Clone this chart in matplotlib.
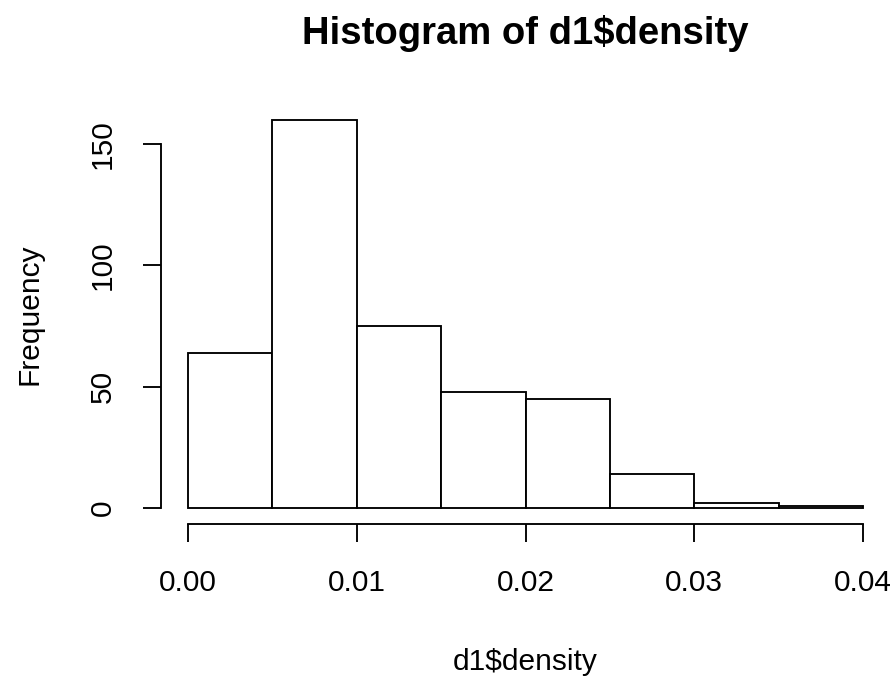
import matplotlib
matplotlib.use("Agg")
import matplotlib.pyplot as plt
import numpy as np

# Data
bin_edges = [0.000, 0.005, 0.010, 0.015, 0.020, 0.025, 0.030, 0.035, 0.040]
counts = [64, 160, 75, 48, 45, 14, 2, 1]
x_ticks = [0.00, 0.01, 0.02, 0.03, 0.04]
x_tick_labels = ["0.00", "0.01", "0.02", "0.03", "0.04"]
y_ticks = [0, 50, 100, 150]
y_tick_labels = ["0", "50", "100", "150"]
title = "Histogram of d1$density"
xlabel = "d1$density"
ylabel = "Frequency"

plt.rcParams['font.family'] = ['Liberation Sans', 'DejaVu Sans']

W, H = 895, 679
fig = plt.figure(figsize=(W / 100, H / 100), dpi=100)
left, right, bottom, top = 161, 890, 523.5, 104.3
ax = fig.add_axes([left / W, 1 - bottom / H, (right - left) / W, (bottom - top) / H])

lw = 1.35
widths = np.diff(bin_edges)
ax.bar(bin_edges[:-1], counts, width=widths, align='edge',
       facecolor='white', edgecolor='black', linewidth=lw)

xr = bin_edges[-1] - bin_edges[0]
ax.set_xlim(bin_edges[0] - 0.04 * xr, bin_edges[-1] + 0.04 * xr)
ymax = max(counts)
ax.set_ylim(-0.04 * ymax, ymax * 1.04)

for s in ['top', 'right']:
    ax.spines[s].set_visible(False)
ax.spines['bottom'].set_bounds(x_ticks[0], x_ticks[-1])
ax.spines['left'].set_bounds(y_ticks[0], y_ticks[-1])
for s in ['bottom', 'left']:
    ax.spines[s].set_linewidth(lw)

ax.set_xticks(x_ticks)
ax.set_xticklabels(x_tick_labels)
ax.set_yticks(y_ticks)
ax.set_yticklabels(y_tick_labels, rotation=90, va='center')
ax.tick_params(axis='both', direction='out', length=13, width=lw,
               labelsize=21.5, colors='black')
ax.tick_params(axis='x', pad=20)
ax.tick_params(axis='y', pad=19)

fig.text(525 / W, 1 - 33 / H, title, ha='center', va='center',
         fontsize=27.5, fontweight='bold')
fig.text(525 / W, 1 - 662 / H, xlabel, ha='center', va='center', fontsize=21.5)
fig.text(30 / W, 1 - 314 / H, ylabel, ha='center', va='center',
         rotation=90, fontsize=21.5)

fig.savefig("out.png", dpi=100, facecolor='white')
